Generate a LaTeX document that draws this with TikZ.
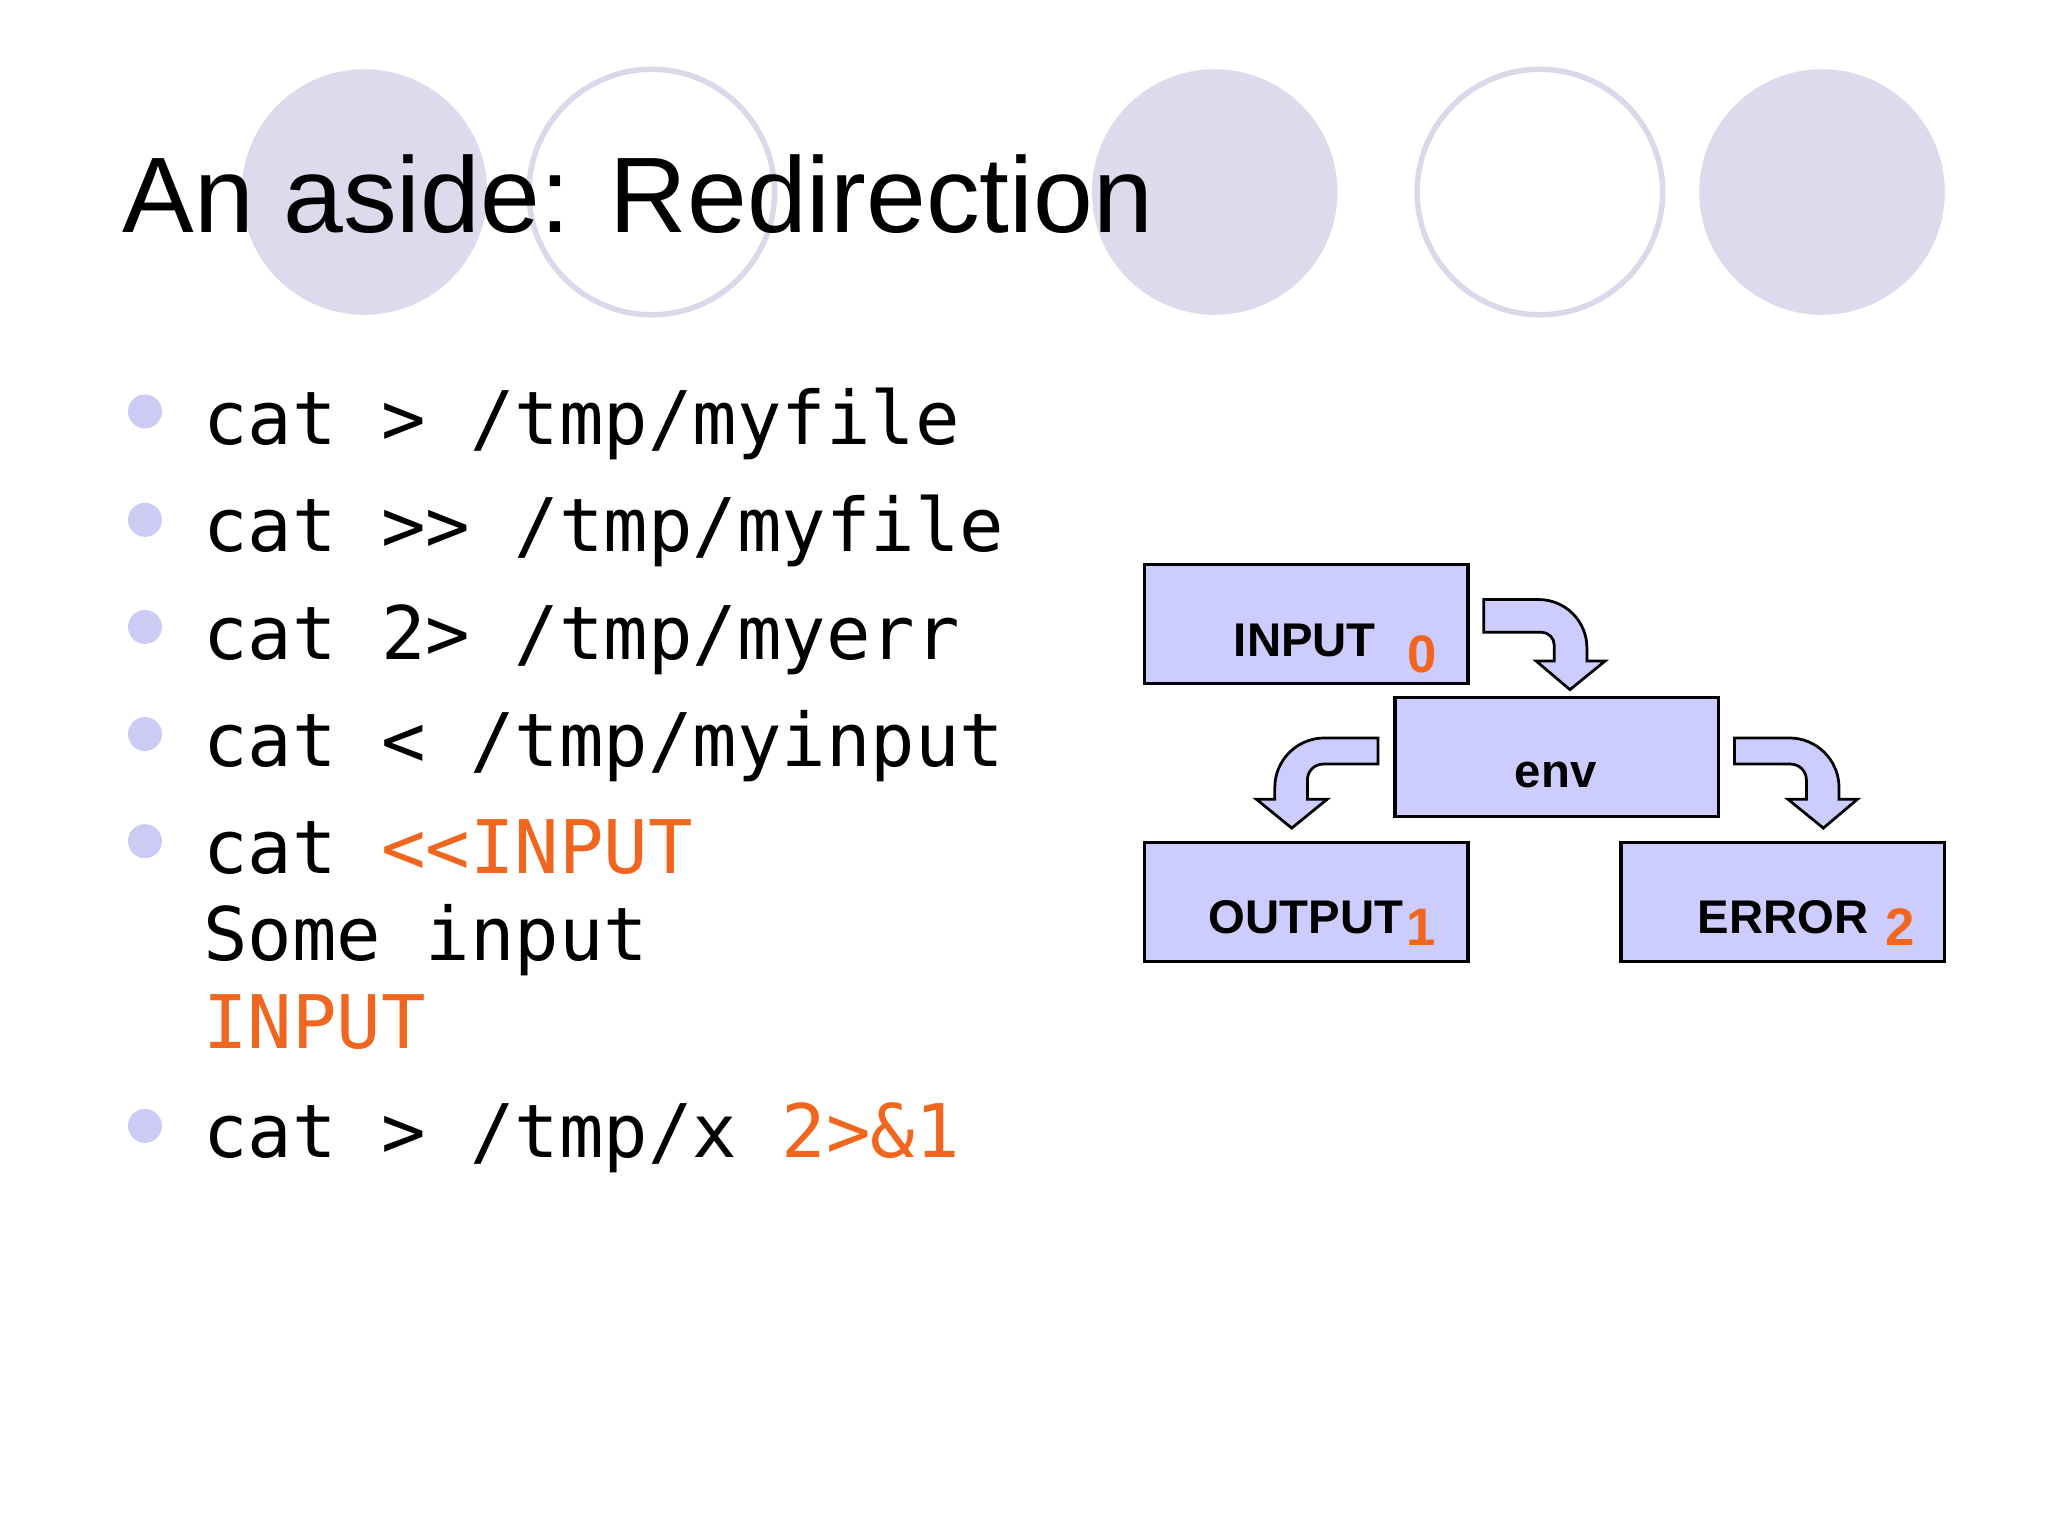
\documentclass[tikz,border=0pt]{standalone}
\usepackage{fontspec}
\setmainfont{Liberation Sans}
\newfontfamily\monof{DejaVu Sans Mono}
\begin{document}
\begin{tikzpicture}[x=0.1mm,y=-0.1mm,
  circf/.style={fill=circfill,draw=none},
  circo/.style={draw=circline,line width=1.2pt,fill=white},
  bul/.style={fill=bulcol,draw=none},
  code/.style={anchor=base west,inner sep=0pt,font=\monof\fontsize{16.1}{18}\selectfont},
  box/.style={draw=black,line width=0.7pt,fill=boxfill},
  lab/.style={inner sep=0pt,font=\bfseries\fontsize{10.3}{12}\selectfont},
  num/.style={inner sep=0pt,text=orng,font=\bfseries\fontsize{11.5}{13}\selectfont},
  barrow/.style={draw=black,line width=0.6pt,fill=boxfill,line join=miter}]
\definecolor{circfill}{HTML}{DCDAEC}
\definecolor{circline}{HTML}{DAD8EA}
\definecolor{bulcol}{HTML}{CBCBF3}
\definecolor{boxfill}{HTML}{CCCCFF}
\definecolor{orng}{HTML}{F0661E}
\useasboundingbox[fill=white] (0,0) rectangle (1568,1176);
% circles
\fill[circf] (279,147) circle (94);
\draw[circo] (499,147) circle (94);
\fill[circf] (930,147) circle (94);
\draw[circo] (1179,147) circle (94);
\fill[circf] (1395,147) circle (94);
% title
\node[anchor=base west,inner sep=0pt,font=\fontsize{23.4}{26}\selectfont] (title) at (93,178) {An aside: Redirection};
% bullets
\foreach \y in {315,398,480,562,644,862} \fill[bul] (111,\y) circle (13);
\node[code] (l1) at (155,340) {cat > /tmp/myfile};
\node[code] (l2) at (155,422) {cat >> /tmp/myfile};
\node[code] (l3) at (155,505) {cat 2> /tmp/myerr};
\node[code] (l4) at (155,587) {cat < /tmp/myinput};
\node[code] (l5) at (155,669) {cat \textcolor{orng}{<<INPUT}};
\node[code] (l6) at (155,735) {Some input};
\node[code,text=orng] (l7) at (155,803) {INPUT};
\node[code] (l8) at (155,886) {cat > /tmp/x \textcolor{orng}{2>\&1}};
% boxes
\draw[box] (876,432) rectangle (1124,523);
\draw[box] (1068,534) rectangle (1316,625);
\draw[box] (876,645) rectangle (1124,736);
\draw[box] (1241,645) rectangle (1489,736);
\node[lab] (tin) at (999,490) {INPUT};
\node[num] (nin) at (1089,501) {0};
\node[lab] (tenv) at (1191,593) {env};
\node[lab] (tout) at (1000,702) {OUTPUT};
\node[num] (nout) at (1088,710) {1};
\node[lab] (terr) at (1365,702) {ERROR};
\node[num] (nerr) at (1455,710) {2};
% bent arrows
\draw[barrow] (1136,459) -- (1178,459) arc[start angle=-90,end angle=0,radius=37] -- (1215,506)
  -- (1229,506) -- (1202,528) -- (1176,506) -- (1190,506) -- (1190,494)
  arc[start angle=0,end angle=-90,radius=10] -- (1136,484) -- cycle;
\draw[barrow] (1055,565) -- (1014,565) arc[start angle=-90,end angle=-180,radius=38] -- (976,612)
  -- (962,612) -- (989,634) -- (1016,612) -- (1001,612) -- (1001,597)
  arc[start angle=180,end angle=270,radius=12] -- (1055,585) -- cycle;
\draw[barrow] (1328,565) -- (1370,565) arc[start angle=-90,end angle=0,radius=38] -- (1408,612)
  -- (1422,612) -- (1396,634) -- (1369,612) -- (1383,612) -- (1383,597)
  arc[start angle=0,end angle=-90,radius=12] -- (1328,585) -- cycle;
\end{tikzpicture}
\end{document}
